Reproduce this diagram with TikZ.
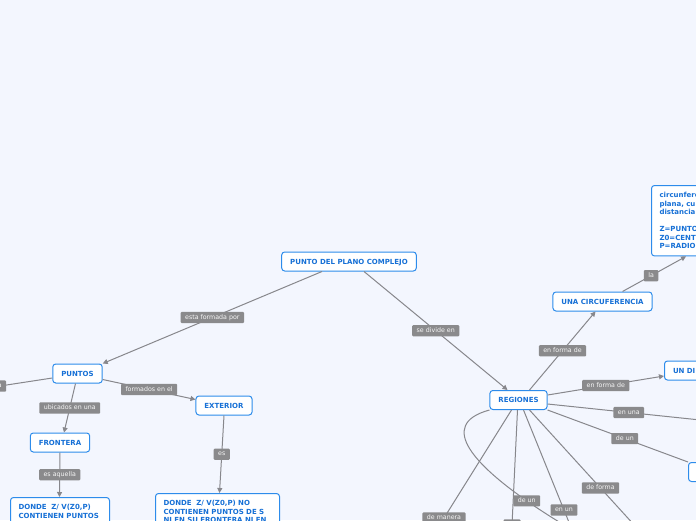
\documentclass[tikz,border=0pt]{standalone}
\usepackage{fontspec}
\setmainfont{DejaVu Sans}
\usepackage{xcolor}
\usetikzlibrary{positioning,arrows.meta}

\definecolor{bgblue}{RGB}{243,246,254}
\definecolor{boxblue}{RGB}{45,140,235}
\definecolor{txtblue}{RGB}{22,112,214}
\definecolor{linegray}{RGB}{135,135,140}
\definecolor{lblgray}{RGB}{138,138,140}

\begin{document}
\begin{tikzpicture}[x=1pt, y=-1pt,
    topic/.style={draw=boxblue, fill=white, line width=1pt, rounded corners=3pt, text=txtblue,
        font=\fontsize{7}{8.5}\selectfont\bfseries, minimum height=19pt, inner xsep=8.5pt,
        text height=5.1pt, text depth=0pt},
    note/.style={draw=boxblue, fill=white, line width=1pt, rounded corners=3pt, text=txtblue,
        font=\fontsize{7}{8.5}\selectfont\bfseries, align=left, inner xsep=8pt, inner ysep=7pt},
    lbl/.style={fill=lblgray, text=white!92!lblgray, font=\fontsize{6.3}{7}\selectfont,
        rounded corners=1pt, inner xsep=4.5pt, inner ysep=2.5pt, text height=4.8pt, text depth=1.4pt},
    link/.style={draw=linegray, line width=1pt},
    linkarrow/.style={link, -{Triangle[length=5pt,width=5pt]}}]

    \useasboundingbox (0,0) rectangle (696,520);
    \clip (0,0) rectangle (696,520);
    \fill[bgblue] (0,0) rectangle (696,520);

    \node[topic] (punto) at (349,261.5) {PUNTO DEL PLANO COMPLEJO};

    \node[topic] (puntos) at (77.5,373.5) {PUNTOS};
    \node[topic] (frontera) at (60,442.5) {FRONTERA};
    \node[topic] (exterior) at (224,405.5) {EXTERIOR};
    \node[note, anchor=north west, text width=83pt] (donde_a) at (10,497) {DONDE\ \ Z/ V(Z0,P)\\CONTIENEN PUNTOS};
    \node[note, anchor=north west, text width=108pt] (donde_b) at (155,493) {DONDE\ \ Z/ V(Z0,P) NO\\CONTIENEN PUNTOS DE S\\NI EN SU FRONTERA NI EN};

    \node[topic] (regiones) at (518.5,400) {REGIONES};
    \node[topic] (circ) at (602.5,301.5) {UNA CIRCUFERENCIA};
    \node[note, anchor=north west, text width=90pt] (circ_def) at (651,185) {circunfere\\plana, cu\\distancia\\[8.5pt]Z=PUNTO\\Z0=CENT\\P=RADIO};
    \node[topic, anchor=west, text width=60pt, align=left] (undi) at (664,370.5) {UN DI};
    \node[topic, anchor=north west, minimum width=70pt] (deun_box) at (688,462) {};

    \coordinate (puntos_out) at (-70,396.7);
    \coordinate (enuna_out) at (710,421);
    \coordinate (manera_out) at (376.5,626);
    \coordinate (mid_out) at (506.5,640);
    \coordinate (enun_out) at (604.5,610);
    \coordinate (forma_out) at (671.5,566);
    \coordinate (curve_out) at (590,540);

    \draw[linkarrow] ([xshift=-27pt]punto.south) -- node[lbl] {esta formada por} (puntos.north east);
    \draw[linkarrow] ([xshift=15pt]punto.south) -- node[lbl] {se divide en} ([xshift=-11pt]regiones.north);

    \draw[link] ([yshift=-4.5pt]puntos.west) -- node[lbl, pos=0.43] {a} (puntos_out);
    \draw[linkarrow] ([xshift=-2pt]puntos.south) -- node[lbl] {ubicados en una} ([xshift=4pt]frontera.north);
    \draw[linkarrow] ([yshift=-6pt]puntos.east) -- node[lbl] {formados en el} ([yshift=6pt]exterior.west);
    \draw[linkarrow] (frontera.south) -- node[lbl] {es aquella} ([xshift=-0.5pt]donde_a.north);
    \draw[linkarrow] (exterior.south) -- node[lbl] {es} ([xshift=2pt]donde_b.north);

    \draw[linkarrow] ([xshift=11pt]regiones.north) -- node[lbl] {en forma de} ([xshift=-7pt]circ.south);
    \draw[linkarrow] ([xshift=20pt]circ.north) -- node[lbl, pos=0.45] {la} ([xshift=35pt]circ_def.south west);
    \draw[linkarrow] ([yshift=5pt]regiones.east) -- node[lbl] {en forma de} ([yshift=-5.5pt]undi.west);
    \draw[link] ([yshift=-4pt]regiones.east) -- node[lbl] {en una} (enuna_out);
    \draw[link] (regiones.south east) -- node[lbl, pos=0.55] {de un} (deun_box.north west);

    \draw[link] ([xshift=-7pt]regiones.south) -- node[lbl] {de manera} (manera_out);
    \draw[link] ([xshift=-1pt]regiones.south) -- node[lbl, minimum width=17pt] {} (mid_out);
    \draw[link] ([xshift=5pt]regiones.south) -- node[lbl] {en un} (enun_out);
    \draw[link] ([xshift=11pt]regiones.south) -- node[lbl] {de forma} (forma_out);
    \draw[link] (regiones.south west) .. controls (380,440) and (665,579) .. node[lbl] {de un} (curve_out);
\end{tikzpicture}
\end{document}
